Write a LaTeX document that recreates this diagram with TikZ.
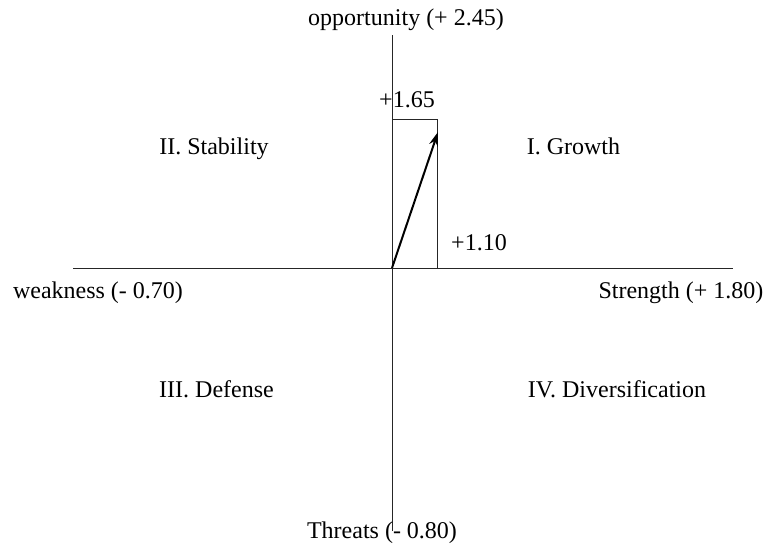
\documentclass[tikz,border=0pt]{standalone}
\usepackage{fontspec}
\setmainfont{Liberation Serif}
\usetikzlibrary{arrows.meta}
\begin{document}
\begin{tikzpicture}[x=1pt,y=-1pt,
  lbl/.style={font=\fontsize{24}{28}\selectfont, inner sep=0pt},
  axis/.style={line width=1pt, draw=black!85},
  vec/.style={line width=2pt, -{Stealth[length=14pt,width=9pt]}}]
\useasboundingbox (0,0) rectangle (768,549);
\coordinate (O) at (392,268);
\coordinate (T) at (392,35);
\coordinate (B) at (392,531);
\coordinate (L) at (73,268);
\coordinate (R) at (733,268);
\draw[axis] (T) -- (B);
\draw[axis] (L) -- (R);
\coordinate (LT) at (392,119);
\coordinate (RT) at (437,119);
\coordinate (RB) at (437,268);
\draw[axis] (LT) -- (RT) -- (RB);
\coordinate (tip) at (438,132);
\draw[vec] (O) -- (tip);
\node[lbl] (opp) at (406,20) {opportunity (+ 2.45)};
\node[lbl] (thr) at (382,533) {Threats (- 0.80)};
\node[lbl] (weak) at (98,293) {weakness (- 0.70)};
\node[lbl] (str) at (681,293) {Strength (+ 1.80)};
\node[lbl] (v165) at (407,100) {+1.65};
\node[lbl] (v110) at (479,243) {+1.10};
\node[lbl, anchor=base] (q2) at (214,154) {II. Stability};
\node[lbl, anchor=base] (q1) at (573.5,154) {I. Growth};
\node[lbl, anchor=base] (q3) at (216.5,397) {III. Defense};
\node[lbl, anchor=base] (q4) at (617,397) {IV. Diversification};
\end{tikzpicture}
\end{document}
